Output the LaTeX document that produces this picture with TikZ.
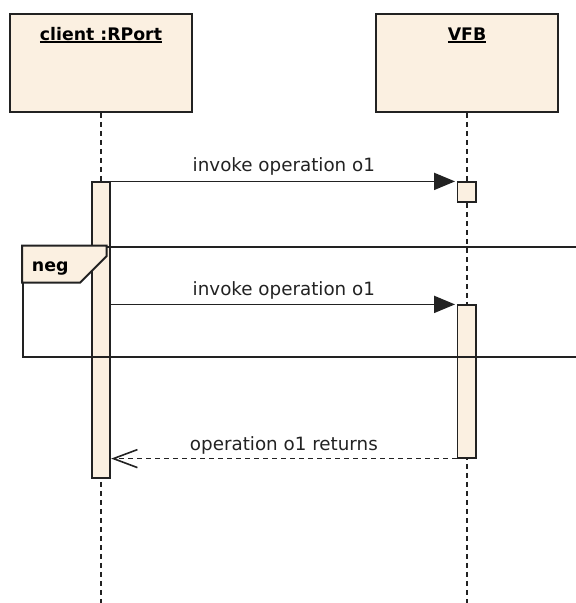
\documentclass[tikz,border=0pt]{standalone}
\usepackage{fontspec}
\setmainfont{DejaVu Sans}
\usetikzlibrary{arrows.meta,positioning}
\definecolor{umlfill}{HTML}{FBF0E1}
\definecolor{umlline}{HTML}{222222}
\newcommand{\ulname}[1]{\setbox0=\hbox{#1}\rlap{\copy0}\rule[-2.6pt]{\wd0}{1.6pt}}

\begin{document}
\begin{tikzpicture}[x=1pt, y=-1pt,
        lifebox/.style={rectangle, draw=umlline, fill=umlfill, line width=2.2pt, minimum width=182pt, minimum height=97.7pt, inner sep=0pt},
        title/.style={anchor=base, inner sep=0pt, font=\fontsize{17.3}{20}\selectfont\bfseries},
        lifeline/.style={umlline, line width=1.8pt, dash pattern=on 5pt off 4pt},
        activation/.style={rectangle, draw=umlline, fill=umlfill, line width=1.8pt, minimum width=18.5pt, inner sep=0pt},
        fragment/.style={rectangle, draw=umlline, line width=2.4pt, minimum width=580pt, minimum height=110.3pt, inner sep=0pt},
        call/.style={umlline, line width=1.8pt, shorten >=1.5pt, -{Triangle[length=21pt, width=17pt]}},
        reply/.style={umlline, line width=1.6pt, dash pattern=on 5pt off 4pt, -{Straight Barb[length=24pt, width=18pt]}},
        msglabel/.style={inner sep=0pt, font=\fontsize{18.3}{21}\selectfont}
    ]
    \useasboundingbox (0,0) rectangle (576,603);
    \clip (0,0) rectangle (576,603);

    % Lifeline heads
    \node[lifebox] (client_box) at (101, 62.8) {};
    \node[lifebox] (vfb_box) at (467, 62.8) {};
    \node[title] (client_title) at (101, 40) {\ulname{client :RPort}};
    \node[title] (vfb_title) at (467, 40) {\ulname{VFB}};

    % Lifelines
    \coordinate (client_end) at (101, 603);
    \coordinate (vfb_end) at (467, 603);
    \draw[lifeline] (client_box) -- (client_end);
    \draw[lifeline] (vfb_box) -- (vfb_end);

    % Activations
    \node[activation, minimum height=296pt] (client_act) at (101, 330.3) {};
    \node[activation, minimum height=20pt] (vfb_act1) at (466.7, 192.3) {};
    \node[activation, minimum height=152.4pt] (vfb_act2) at (466.7, 381.5) {};

    % Fragment neg
    \node[fragment, anchor=north west] (neg_frame) at (22, 245.7) {};
    \draw[umlline, fill=umlfill, line width=2pt] (neg_frame.north west) -- ++(84.7,0) -- ++(0,10.3) -- ++(-26.7,26.7) -- ++(-58,0) -- cycle;
    \node[anchor=base west, inner sep=0pt, font=\fontsize{17.4}{20}\selectfont\bfseries] (neg_label) at (31.7, 271.7) {neg};

    % Messages
    \draw[call] (client_act.north east) -- (vfb_act1.north west)
        node[msglabel, midway, above=4.8pt] (call1_label) {invoke operation o1};
    \draw[call] (client_act.east |- vfb_act2.north west) -- (vfb_act2.north west)
        node[msglabel, midway, above=4.4pt] (call2_label) {invoke operation o1};
    \draw[reply] (vfb_act2.south west) -- (client_act.east |- vfb_act2.south west)
        node[msglabel, midway, above=3.6pt] (reply_label) {operation o1 returns};

\end{tikzpicture}
\end{document}
